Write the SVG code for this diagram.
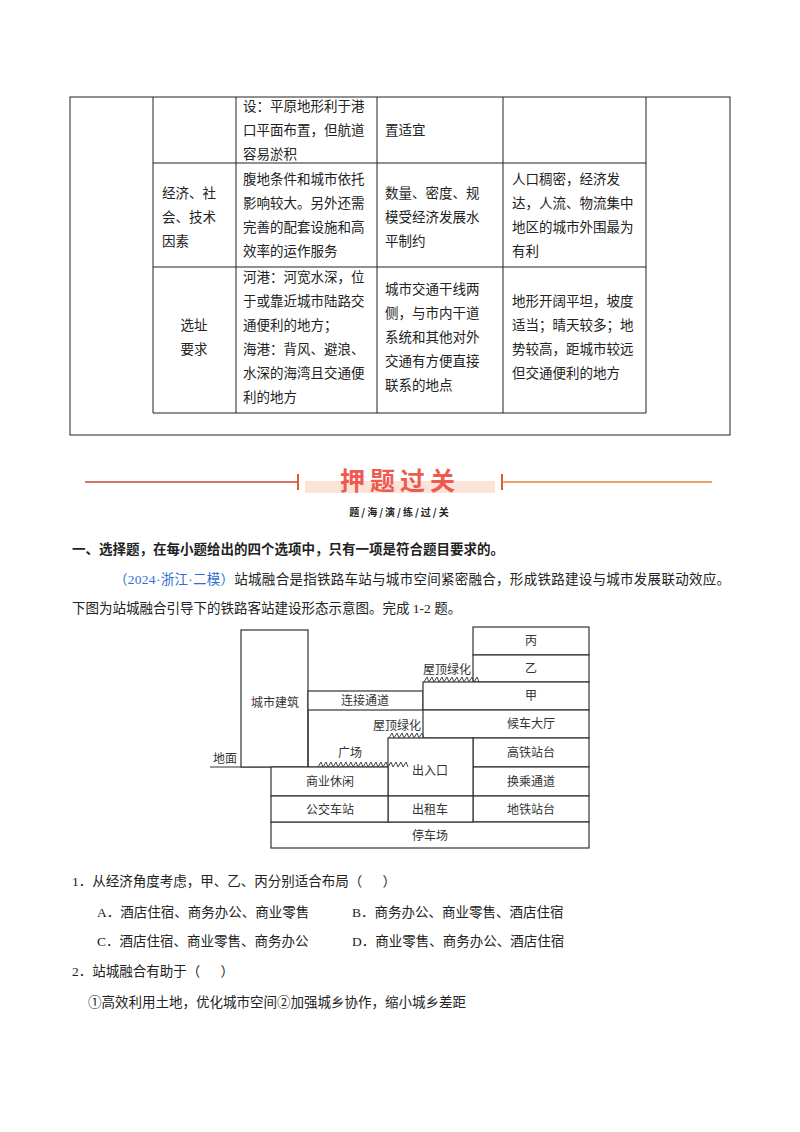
<svg xmlns="http://www.w3.org/2000/svg" width="800" height="1132" viewBox="0 0 800 1132">
<style>
text{font-family:"Liberation Serif","Noto Sans CJK SC",serif;font-size:13.5px;fill:#222}
.d{font-size:12px;fill:#333;text-anchor:middle}
.b{font-weight:bold;font-family:"Noto Sans CJK SC",sans-serif}
.ln{stroke:#222;fill:none;stroke-width:1}
.bx{stroke:#333;fill:#fff;stroke-width:1.2}
.g{stroke:#444;stroke-width:1;fill:none}
</style>
<rect width="800" height="1132" fill="#fff"/>
<g id="table">
<rect x="70" y="97" width="660" height="338" class="ln"/>
<path class="ln" d="M153 97V413H646V97M236 97V413M377 97V413M503 97V413M153 163H646M153 267H646"/>
<text x="243" y="111">设：平原地形利于港</text>
<text x="243" y="135">口平面布置，但航道</text>
<text x="243" y="159">容易淤积</text>
<text x="385" y="135">置适宜</text>
<text x="162" y="198">经济、社</text>
<text x="162" y="222">会、技术</text>
<text x="162" y="246">因素</text>
<text x="243" y="184">腹地条件和城市依托</text>
<text x="243" y="208">影响较大。另外还需</text>
<text x="243" y="232">完善的配套设施和高</text>
<text x="243" y="256">效率的运作服务</text>
<text x="385" y="198">数量、密度、规</text>
<text x="385" y="222">模受经济发展水</text>
<text x="385" y="246">平制约</text>
<text x="512" y="184">人口稠密，经济发</text>
<text x="512" y="208">达，人流、物流集中</text>
<text x="512" y="232">地区的城市外围最为</text>
<text x="512" y="256">有利</text>
<text x="194" y="330" text-anchor="middle">选址</text>
<text x="194" y="354" text-anchor="middle">要求</text>
<text x="243" y="282">河港：河宽水深，位</text>
<text x="243" y="306">于或靠近城市陆路交</text>
<text x="243" y="330">通便利的地方；</text>
<text x="243" y="354">海港：背风、避浪、</text>
<text x="243" y="378">水深的海湾且交通便</text>
<text x="243" y="402">利的地方</text>
<text x="385" y="294">城市交通干线两</text>
<text x="385" y="318">侧，与市内干道</text>
<text x="385" y="342">系统和其他对外</text>
<text x="385" y="366">交通有方便直接</text>
<text x="385" y="390">联系的地点</text>
<text x="512" y="306">地形开阔平坦，坡度</text>
<text x="512" y="330">适当；晴天较多；地</text>
<text x="512" y="354">势较高，距城市较远</text>
<text x="512" y="378">但交通便利的地方</text>
</g>
<g id="banner">
<line x1="85" y1="482" x2="298" y2="482" stroke="#c8403a" stroke-width="1.5"/>
<line x1="298" y1="474" x2="298" y2="490" stroke="#d8602a" stroke-width="2"/>
<rect x="305" y="481" width="190" height="12" fill="#fbe3d8"/>
<text x="400" y="490" text-anchor="middle" class="b" style="font-size:25px;fill:#ef5a50;letter-spacing:5px">押题过关</text>
<line x1="502" y1="474" x2="502" y2="490" stroke="#d8602a" stroke-width="2"/>
<line x1="502" y1="482" x2="712" y2="482" stroke="#e8803a" stroke-width="1.5"/>
<text x="400" y="516" text-anchor="middle" class="b" style="font-size:10px;letter-spacing:2px">题/海/演/练/过/关</text>
</g>
<text x="72" y="554" class="b" style="font-size:13.5px">一、选择题，在每小题给出的四个选项中，只有一项是符合题目要求的。</text>
<text x="114" y="584" textLength="616"><tspan fill="#2f6fd0">（2024·浙江·二模）</tspan>站城融合是指铁路车站与城市空间紧密融合，形成铁路建设与城市发展联动效应。</text>
<text x="72" y="613">下图为站城融合引导下的铁路客站建设形态示意图。完成 1-2 题。</text>
<g id="diagram">
<line x1="210" y1="767" x2="589" y2="767" stroke="#333" stroke-width="1.2"/>
<g id="n-city"><rect x="241" y="630" width="67" height="137" class="bx"/><text x="275" y="707" class="d">城市建筑</text></g>
<g id="n-link"><rect x="308" y="691" width="115" height="19" class="bx"/><text x="365" y="705" class="d">连接通道</text></g>
<g id="n-bing"><rect x="473" y="627" width="116" height="28" class="bx"/><text x="531" y="645" class="d">丙</text></g>
<g id="n-yi"><rect x="473" y="655" width="116" height="27" class="bx"/><text x="531" y="673" class="d">乙</text></g>
<g id="n-jia"><rect x="423" y="682" width="166" height="28" class="bx"/><text x="531" y="700" class="d">甲</text></g>
<g id="n-hall"><rect x="423" y="710" width="166" height="28" class="bx"/><text x="531" y="728" class="d">候车大厅</text></g>
<g id="n-hsr"><rect x="473" y="738" width="116" height="29" class="bx"/><text x="531" y="757" class="d">高铁站台</text></g>
<g id="n-trans"><rect x="473" y="767" width="116" height="29" class="bx"/><text x="531" y="786" class="d">换乘通道</text></g>
<g id="n-metro"><rect x="473" y="796" width="116" height="26" class="bx"/><text x="531" y="814" class="d">地铁站台</text></g>
<g id="n-park"><rect x="271" y="822" width="318" height="26" class="bx"/><text x="430" y="840" class="d">停车场</text></g>
<g id="n-exit"><rect x="388" y="738" width="85" height="58" class="bx"/><text x="430" y="775" class="d">出入口</text></g>
<g id="n-taxi"><rect x="388" y="796" width="85" height="26" class="bx"/><text x="430" y="814" class="d">出租车</text></g>
<g id="n-biz"><rect x="271" y="767" width="117" height="29" class="bx"/><text x="330" y="786" class="d">商业休闲</text></g>
<g id="n-bus"><rect x="271" y="796" width="117" height="26" class="bx"/><text x="330" y="814" class="d">公交车站</text></g>
<line x1="308" y1="710" x2="308" y2="767" stroke="#333" stroke-width="1.2"/>
<text x="447" y="674" class="d">屋顶绿化</text>
<path class="g" d="M424 682l3-5 2 5 3-5 2 5 3-5 2 5 3-5 2 5 3-5 2 5 3-5 2 5 3-5 2 5 3-5 2 5 3-5 2 5 3-5 2 5 3-5 2 5"/>
<text x="397" y="730" class="d">屋顶绿化</text>
<path class="g" d="M389 738l3-5 2 5 3-5 2 5 3-5 2 5 3-5 2 5 3-5 2 5 3-5 2 5 3-5 2 5"/>
<text x="350" y="757" class="d">广场</text>
<path class="g" d="M318 767l3-5 2 5 3-5 2 5 3-5 2 5 3-5 2 5 3-5 2 5 3-5 2 5 3-5 2 5 3-5 2 5 3-5 2 5 3-5 2 5 3-5 2 5 3-5 2 5 3-5 2 5 3-5 2 5 3-5 2 5 3-5 2 5 3-5 2 5 3-5 2 5"/>
<text x="225" y="763" class="d">地面</text>
</g>
<text x="72" y="886">1．从经济角度考虑，甲、乙、丙分别适合布局（&#160;&#160;&#160;&#160;&#160;&#160;）</text>
<text x="97" y="917">A．酒店住宿、商务办公、商业零售</text>
<text x="352" y="917">B．商务办公、商业零售、酒店住宿</text>
<text x="97" y="946">C．酒店住宿、商业零售、商务办公</text>
<text x="352" y="946">D．商业零售、商务办公、酒店住宿</text>
<text x="72" y="976">2．站城融合有助于（&#160;&#160;&#160;&#160;&#160;&#160;）</text>
<text x="88" y="1007">①高效利用土地，优化城市空间②加强城乡协作，缩小城乡差距</text>
</svg>
